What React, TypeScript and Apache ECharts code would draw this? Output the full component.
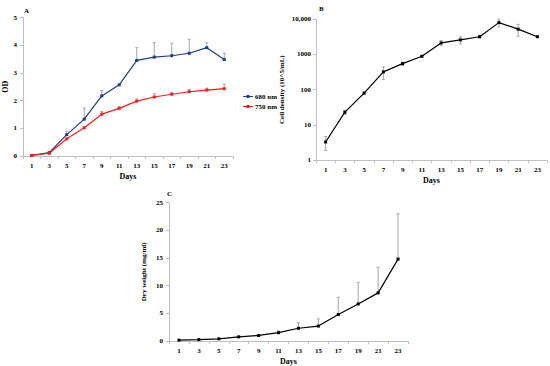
import React, { useEffect, useRef } from "react";
import * as echarts from "echarts";

const days = ["1", "3", "5", "7", "9", "11", "13", "15", "17", "19", "21", "23"];
const od680 = [0.02, 0.12, 0.77, 1.33, 2.17, 2.57, 3.45, 3.57, 3.62, 3.71, 3.91, 3.48];
const od680Sd = [0, 0, 0.12, 0.4, 0.19, 0, 0.46, 0.52, 0.45, 0.5, 0.18, 0.23];
const od750 = [0.02, 0.1, 0.62, 1.02, 1.51, 1.72, 1.98, 2.13, 2.23, 2.32, 2.38, 2.43];
const od750Sd = [0, 0, 0, 0, 0.1, 0.06, 0.08, 0.12, 0.07, 0.08, 0.07, 0.16];
const cellDensity = [3.3, 23, 80, 318, 545, 880, 2100, 2560, 3150, 7900, 5150, 3150];
const cellSd = [1.4, 3, 5, 125, 60, 60, 350, 570, 250, 1900, 1900, 150];
const dryWeight = [0.15, 0.25, 0.4, 0.75, 1.0, 1.5, 2.3, 2.7, 4.8, 6.7, 8.7, 14.8];
const drySd = [0, 0, 0, 0, 0, 0.3, 1.0, 1.3, 3.1, 3.9, 4.6, 8.2];
const logTicks: Record<number, string> = { 1: "1", 10: "10", 100: "100", 1000: "1000", 10000: "10,000" };

const FONT = "Liberation Serif";
const labelStyle = { fontFamily: FONT, fontWeight: "bold" as const, fontSize: 7, color: "#000" };
const axisLineStyle = { lineStyle: { color: "#bfbfbf", width: 1 } };
const legendIcon = "path://M0 3.6H3.5V2.5H6.5V3.6H10V4.4H6.5V5.5H3.5V4.4H0Z";

function errData(vals: number[], sd: number[], both: boolean) {
  return vals
    .map((v, i) => [i, both ? v - sd[i] : v, v + sd[i]])
    .filter((d, i) => sd[i] > 0);
}

function errSeries(xi: number, data: number[][]) {
  return {
    type: "custom",
    xAxisIndex: xi,
    yAxisIndex: xi,
    data,
    encode: { x: 0, y: [1, 2] },
    z: 1,
    silent: true,
    renderItem: (params: any, api: any) => {
      const x = api.value(0);
      const lo = api.coord([x, api.value(1)]);
      const hi = api.coord([x, api.value(2)]);
      const style = { stroke: "#a6a6a6", lineWidth: 1 };
      return {
        type: "group",
        children: [
          { type: "line", shape: { x1: lo[0], y1: lo[1], x2: hi[0], y2: hi[1] }, style },
          { type: "line", shape: { x1: hi[0] - 1.5, y1: hi[1], x2: hi[0] + 1.5, y2: hi[1] }, style },
          { type: "line", shape: { x1: lo[0] - 1.5, y1: lo[1], x2: lo[0] + 1.5, y2: lo[1] }, style },
        ],
      };
    },
  };
}

function xAxis(gi: number) {
  return {
    type: "category",
    gridIndex: gi,
    data: days,
    boundaryGap: true,
    name: "Days",
    nameLocation: "middle",
    nameGap: 16,
    nameTextStyle: { ...labelStyle, fontSize: 8 },
    axisLine: axisLineStyle,
    axisTick: { show: true, length: 3, lineStyle: { color: "#bfbfbf" } },
    axisLabel: { ...labelStyle, margin: 6 },
    splitLine: { show: false },
  };
}

function lineSeries(name: string, gi: number, data: number[], color: string) {
  return {
    name,
    type: "line",
    xAxisIndex: gi,
    yAxisIndex: gi,
    data,
    symbol: "rect",
    symbolSize: 3,
    itemStyle: { color },
    lineStyle: { color, width: 1.2 },
    z: 3,
  };
}

export default function App() {
  const ref = useRef<HTMLDivElement>(null);
  useEffect(() => {
    if (!ref.current) return;
    const chart = echarts.init(ref.current, null, { renderer: "svg" });
    const option: any = {
      animation: false,
      backgroundColor: "#fff",
      title: [
        { text: "A", left: 19, top: 2, textStyle: { ...labelStyle, fontSize: 7 } },
        { text: "B", left: 314, top: 0, textStyle: { ...labelStyle, fontSize: 7 } },
        { text: "C", left: 162, top: 185, textStyle: { ...labelStyle, fontSize: 7 } },
      ],
      legend: {
        orient: "vertical",
        left: 238,
        top: 88,
        itemWidth: 10,
        itemHeight: 4,
        itemGap: 3,
        icon: legendIcon,
        textStyle: { ...labelStyle, fontSize: 7, padding: [0, 0, 0, -3] },
        data: ["680 nm", "750 nm"],
      },
      grid: [
        { left: 22, top: 17.5, width: 211, height: 138.5 },
        { left: 316, top: 19, width: 231, height: 141.3 },
        { left: 169, top: 202.7, width: 239, height: 140 },
      ],
      xAxis: [xAxis(0), xAxis(1), xAxis(2)],
      yAxis: [
        {
          type: "value",
          gridIndex: 0,
          min: 0,
          max: 5,
          interval: 1,
          name: "OD",
          nameLocation: "middle",
          nameGap: 14,
          nameTextStyle: { ...labelStyle, fontSize: 8 },
          axisLine: { show: true, ...axisLineStyle },
          axisTick: { show: true, length: 3, lineStyle: { color: "#bfbfbf" } },
          axisLabel: { ...labelStyle, margin: 6 },
          splitLine: { show: false },
        },
        {
          type: "log",
          gridIndex: 1,
          min: 1,
          max: 10000,
          logBase: 10,
          name: "Cell density (10^5/mL)",
          nameLocation: "middle",
          nameGap: 31,
          nameTextStyle: { ...labelStyle, fontSize: 7 },
          axisLine: { show: true, ...axisLineStyle },
          axisTick: { show: true, length: 3, lineStyle: { color: "#bfbfbf" } },
          axisLabel: { ...labelStyle, margin: 5, formatter: (v: number) => logTicks[Math.round(v)] ?? String(v) },
          splitLine: { show: false },
          minorTick: { show: false },
        },
        {
          type: "value",
          gridIndex: 2,
          min: 0,
          max: 25,
          interval: 5,
          name: "Dry weight (mg/ml)",
          nameLocation: "middle",
          nameGap: 22,
          nameTextStyle: { ...labelStyle, fontSize: 7 },
          axisLine: { show: true, ...axisLineStyle },
          axisTick: { show: true, length: 3, lineStyle: { color: "#bfbfbf" } },
          axisLabel: { ...labelStyle, margin: 6 },
          splitLine: { show: false },
        },
      ],
      series: [
        errSeries(0, errData(od680, od680Sd, false)),
        errSeries(0, errData(od750, od750Sd, false)),
        errSeries(1, errData(cellDensity, cellSd, true)),
        errSeries(2, errData(dryWeight, drySd, false)),
        lineSeries("680 nm", 0, od680, "#1f3c88"),
        lineSeries("750 nm", 0, od750, "#ff1a1a"),
        lineSeries("Cell density", 1, cellDensity, "#000"),
        lineSeries("Dry weight", 2, dryWeight, "#000"),
      ],
    };
    chart.setOption(option);
    return () => chart.dispose();
  }, []);
  return (
    <div
      ref={ref}
      style={{ position: "fixed", left: 0, top: 0, width: 550, height: 366, background: "#fff" }}
    />
  );
}
